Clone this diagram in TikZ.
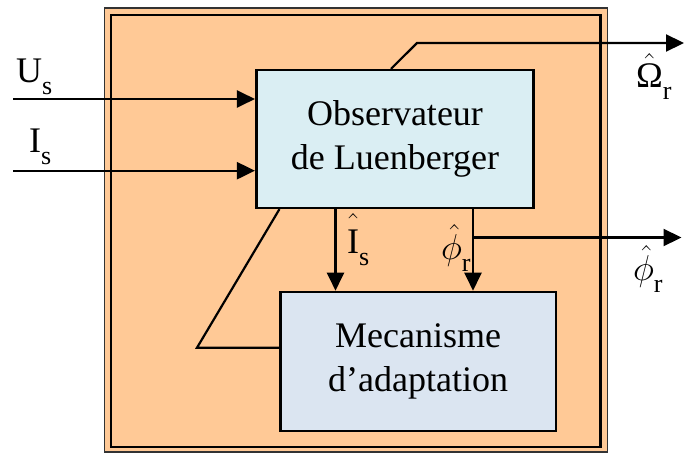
\RequirePackage{fix-cm}
\documentclass[tikz,border=0pt]{standalone}
\usepackage{amsmath}
\usepackage{fontspec}
\setmainfont{Liberation Serif}
\usetikzlibrary{arrows.meta}
\definecolor{orangebg}{HTML}{FFC996}
\definecolor{obsfill}{HTML}{DAEEF3}
\definecolor{mecfill}{HTML}{DBE5F1}
\newcommand{\lsub}[1]{\raisebox{-12pt}{\fontsize{26}{26}\selectfont #1}}
\begin{document}
\begin{tikzpicture}[x=1pt,y=-1pt, line width=2.2pt,
  >={Triangle[length=18pt,width=17pt]},
  lbl/.style={inner sep=0pt, font=\fontsize{36}{40}\selectfont, anchor=base west},
  block/.style={draw, line width=2.6pt, inner sep=0pt, align=center,
    font=\fontsize{36}{44}\selectfont}]
\useasboundingbox (0,0) rectangle (685,455);
% frame
\path[fill=orangebg, draw=black!80, line width=1.8pt] (104.5,8) rectangle (607.5,452);
\draw[line width=2.6pt] (111,15) rectangle (600.5,447);
% blocks
\node[block, fill=obsfill, minimum width=277.5pt, minimum height=137.7pt] (obs) at (395,139)
  {Observateur\\de Luenberger};
\node[block, fill=mecfill, minimum width=275.5pt, minimum height=139pt] (mec) at (418.2,361.5)
  {Mecanisme\\d’adaptation};
% inputs
\coordinate (us) at (13,99);
\coordinate (is) at (13,170.7);
\draw[->] (us) -- (obs.west |- us);
\draw[->] (is) -- (obs.west |- is);
% Omega output
\coordinate (omk) at (417,43);
\coordinate (omend) at (684,43);
\draw[->] ([xshift=-4pt]obs.north) -- (omk) -- (omend);
% feedback
\coordinate (fbk) at (197,347.7);
\draw ([xshift=24.5pt]obs.south west) -- (fbk) -- (fbk -| mec.west);
% Is hat
\coordinate (ix) at (335.5,0);
\draw[->] (obs.south -| ix) -- (mec.north -| ix);
% phi hat
\coordinate (px) at (473,0);
\draw[->] (obs.south -| px) -- (mec.north -| px);
\coordinate (pb) at (473,237.5);
\coordinate (pend) at (681.5,237.5);
\draw[->] (pb) -- (pend);
% labels
\node[lbl] (lus) at (15,82) {U\lsub{s}};
\node[lbl] (lis) at (28,152) {I\lsub{s}};
\node[lbl] (lom) at (635,87) {$\hat{\text{Ω}}$\lsub{r}};
\node[lbl] (lish) at (346,253) {$\hat{\text{I}\rule{0pt}{30pt}}$\lsub{s}};
\node[lbl] (lphi) at (440,259) {$\hat{\phi}$\lsub{r}};
\node[lbl] (lphio) at (632,280) {$\hat{\phi}$\lsub{r}};
\end{tikzpicture}
\end{document}
